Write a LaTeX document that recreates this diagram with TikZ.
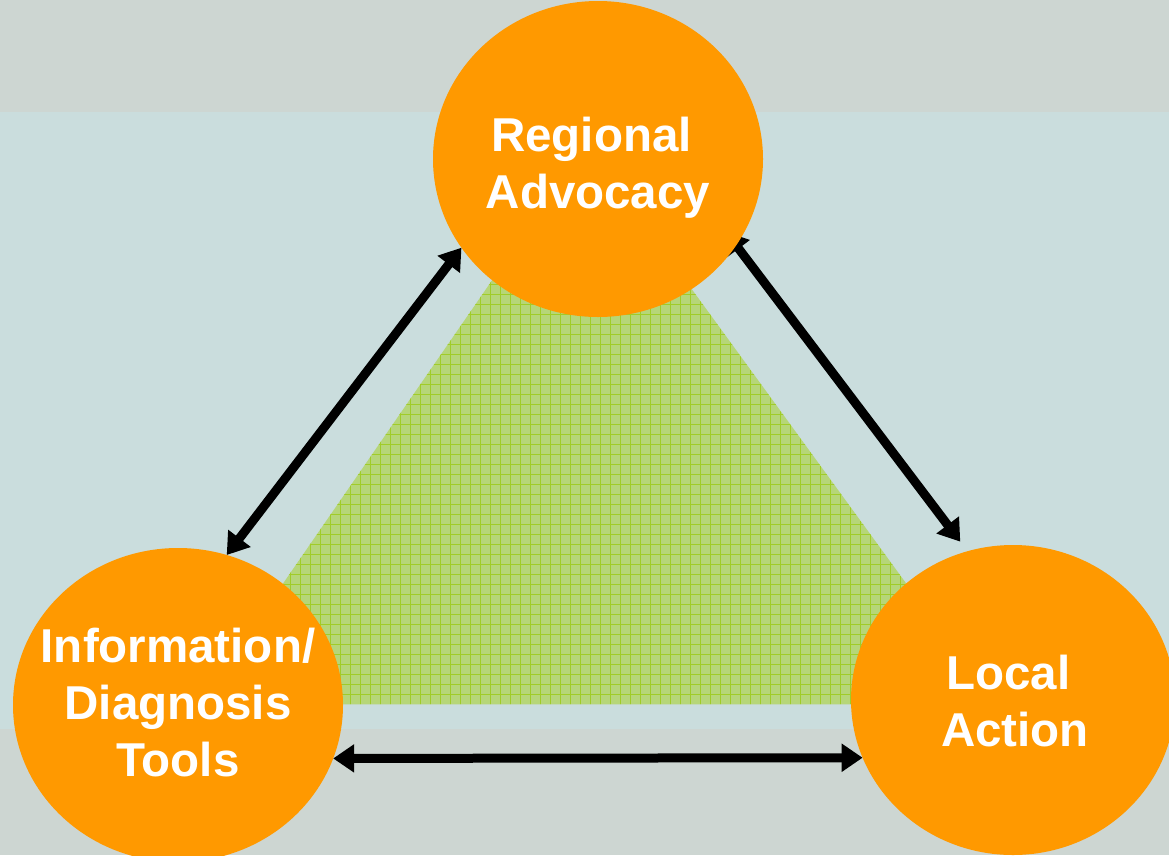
\documentclass[tikz,border=0pt]{standalone}
\usepackage{fontspec}
\setmainfont{Liberation Sans}
\usetikzlibrary{arrows.meta,shapes.geometric}
\pgfdeclarelayer{bg}
\pgfsetlayers{bg,main}
\definecolor{bandgray}{RGB}{205,214,210}
\definecolor{bandblue}{RGB}{202,221,221}
\definecolor{orng}{RGB}{255,153,0}
\definecolor{grfill}{RGB}{182,214,120}
\definecolor{grline}{RGB}{160,204,40}
\begin{document}
\begin{tikzpicture}[x=1pt,y=-1pt,
 blob/.style={ellipse, fill=orng, inner sep=0pt, outer sep=0pt},
 lbl/.style={text=white, font=\fontsize{47.5}{57}\selectfont\bfseries, align=center, inner sep=0pt},
 gridline/.style={grline, line width=1pt},
 link/.style={line width=9pt, {Triangle[length=21pt,width=27pt]}-{Triangle[length=21pt,width=27pt]}}]
\useasboundingbox (0,0) rectangle (1169,855);
\node[blob, minimum width=330pt, minimum height=316pt] (top) at (598,159) {};
\node[blob, minimum width=330pt, minimum height=314pt] (left) at (178,705) {};
\node[blob, minimum width=324pt, minimum height=310pt] (right) at (1013,700) {};
\node[lbl] (ttop) at (598,167.7) {Regional\hphantom{\ }\\Advocacy};
\node[lbl] (tleft) at (178,703) {Information/\\Diagnosis\\Tools};
\node[lbl] (tright) at (1015,701) {Local\hphantom{\ }\\Action};
\begin{pgfonlayer}{bg}
\fill[bandgray] (0,0) rectangle (1169,855);
\fill[bandblue] (0,112) rectangle (1169,729);
\coordinate (apex) at (586,144);
\coordinate (bl) at (200,704);
\coordinate (br) at (994,704);
\begin{scope}
\clip (apex) -- (bl) -- (br) -- cycle;
\fill[grfill] (190,140) rectangle (1000,710);
\foreach \gx in {190,200,...,1000} \draw[gridline] (\gx,140) -- (\gx,710);
\foreach \gy in {144,154,...,704} \draw[gridline] (190,\gy) -- (1000,\gy);
\end{scope}
\draw[link] (left.72.6) -- (top.213.8);
\draw[link, shorten <=-17pt, shorten >=12pt] (top.-32) -- (right.107.7);
\draw[link] (left.-19) -- (right.201.3);
\end{pgfonlayer}
\end{tikzpicture}
\end{document}
